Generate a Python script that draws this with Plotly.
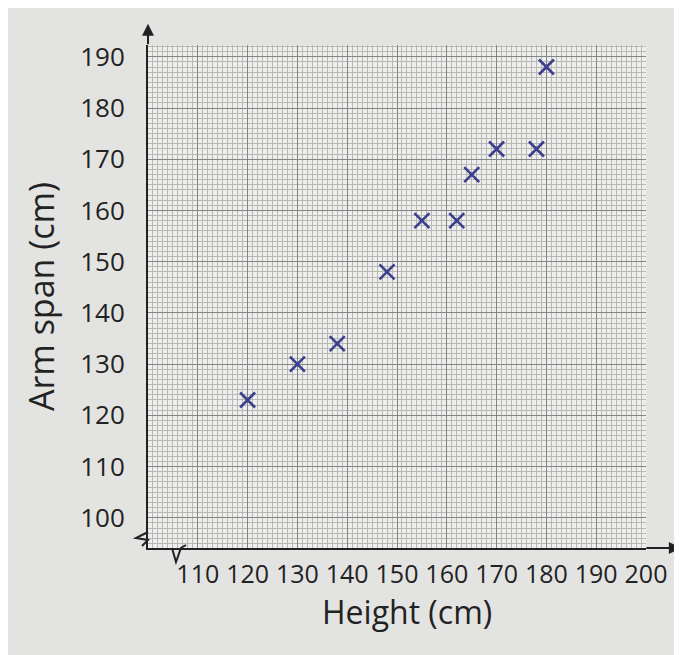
import plotly.graph_objects as go

# Data
height_cm = [120, 130, 138, 148, 155, 162, 165, 170, 178, 180]
arm_span_cm = [123, 130, 134, 148, 158, 158, 167, 172, 172, 188]

x_tick_vals = [110, 120, 130, 140, 150, 160, 170, 180, 190, 200]
y_tick_vals = [100, 110, 120, 130, 140, 150, 160, 170, 180, 190]

x_title = "Height (cm)"
y_title = "Arm span (cm)"

INK = "#222222"
MARK = "#3d3f8e"

fig = go.Figure()
fig.add_trace(go.Scatter(
    x=height_cm, y=arm_span_cm, mode="markers",
    marker=dict(symbol="x-thin", size=15, color=MARK,
                line=dict(width=2.6, color=MARK)),
    showlegend=False, hoverinfo="x+y",
))

fig.update_layout(
    width=682, height=655,
    margin=dict(l=140, r=44, t=37, b=115),
    paper_bgcolor="#e3e4e2",
    plot_bgcolor="#eeeeec",
    font=dict(family="Open Sans", color=INK),
    xaxis=dict(
        range=[100, 200], tickmode="array", tickvals=x_tick_vals,
        ticks="", showgrid=True, gridcolor="#858585", gridwidth=1.4,
        minor=dict(dtick=1, tick0=100, showgrid=True, gridcolor="#b8b8b6", gridwidth=0.8),
        showline=True, linecolor=INK, linewidth=2, zeroline=False,
        tickfont=dict(size=25, color=INK), ticklabelstandoff=3,
        automargin=False,
    ),
    yaxis=dict(
        range=[94.1, 192.3], tickmode="array", tickvals=y_tick_vals,
        ticks="", showgrid=True, gridcolor="#858585", gridwidth=1.4,
        minor=dict(dtick=1, tick0=100, showgrid=True, gridcolor="#b8b8b6", gridwidth=0.8),
        showline=True, linecolor=INK, linewidth=2, zeroline=False,
        tickfont=dict(size=26, color=INK), ticklabelstandoff=16,
        title=dict(text=y_title, font=dict(size=34, color=INK)),
        automargin=False,
    ),
)

# x-axis title, placed close under the tick labels as in the original
fig.add_annotation(xref="paper", yref="paper", x=0.5, y=0, xshift=10, yshift=-63,
                   xanchor="center", yanchor="middle", showarrow=False,
                   text=x_title, font=dict(size=32, color=INK, family="Open Sans"))

# axis arrows
fig.add_annotation(xref="paper", yref="paper", x=0, y=1.042, ax=0, ay=22,
                   axref="pixel", ayref="pixel", showarrow=True, arrowhead=2,
                   arrowsize=1.2, arrowwidth=2, arrowcolor=INK, text="")
fig.add_annotation(xref="paper", yref="paper", x=1.07, y=0, ax=-36, ay=0,
                   axref="pixel", ayref="pixel", showarrow=True, arrowhead=2,
                   arrowsize=1.2, arrowwidth=2, arrowcolor=INK, text="")

# axis break symbols
fig.add_shape(type="path", xref="paper", yref="paper", xsizemode="pixel", ysizemode="pixel",
              xanchor=0, yanchor=0, path="M 0 16 L -12 10 L 0 8 L -6 2",
              line=dict(color=INK, width=2), fillcolor="rgba(0,0,0,0)")
fig.add_shape(type="path", xref="paper", yref="paper", xsizemode="pixel", ysizemode="pixel",
              xanchor=0, yanchor=0, path="M 24 0 L 28 -14 L 33 0 L 38 3",
              line=dict(color=INK, width=2), fillcolor="rgba(0,0,0,0)")

fig.write_html("out.html")
